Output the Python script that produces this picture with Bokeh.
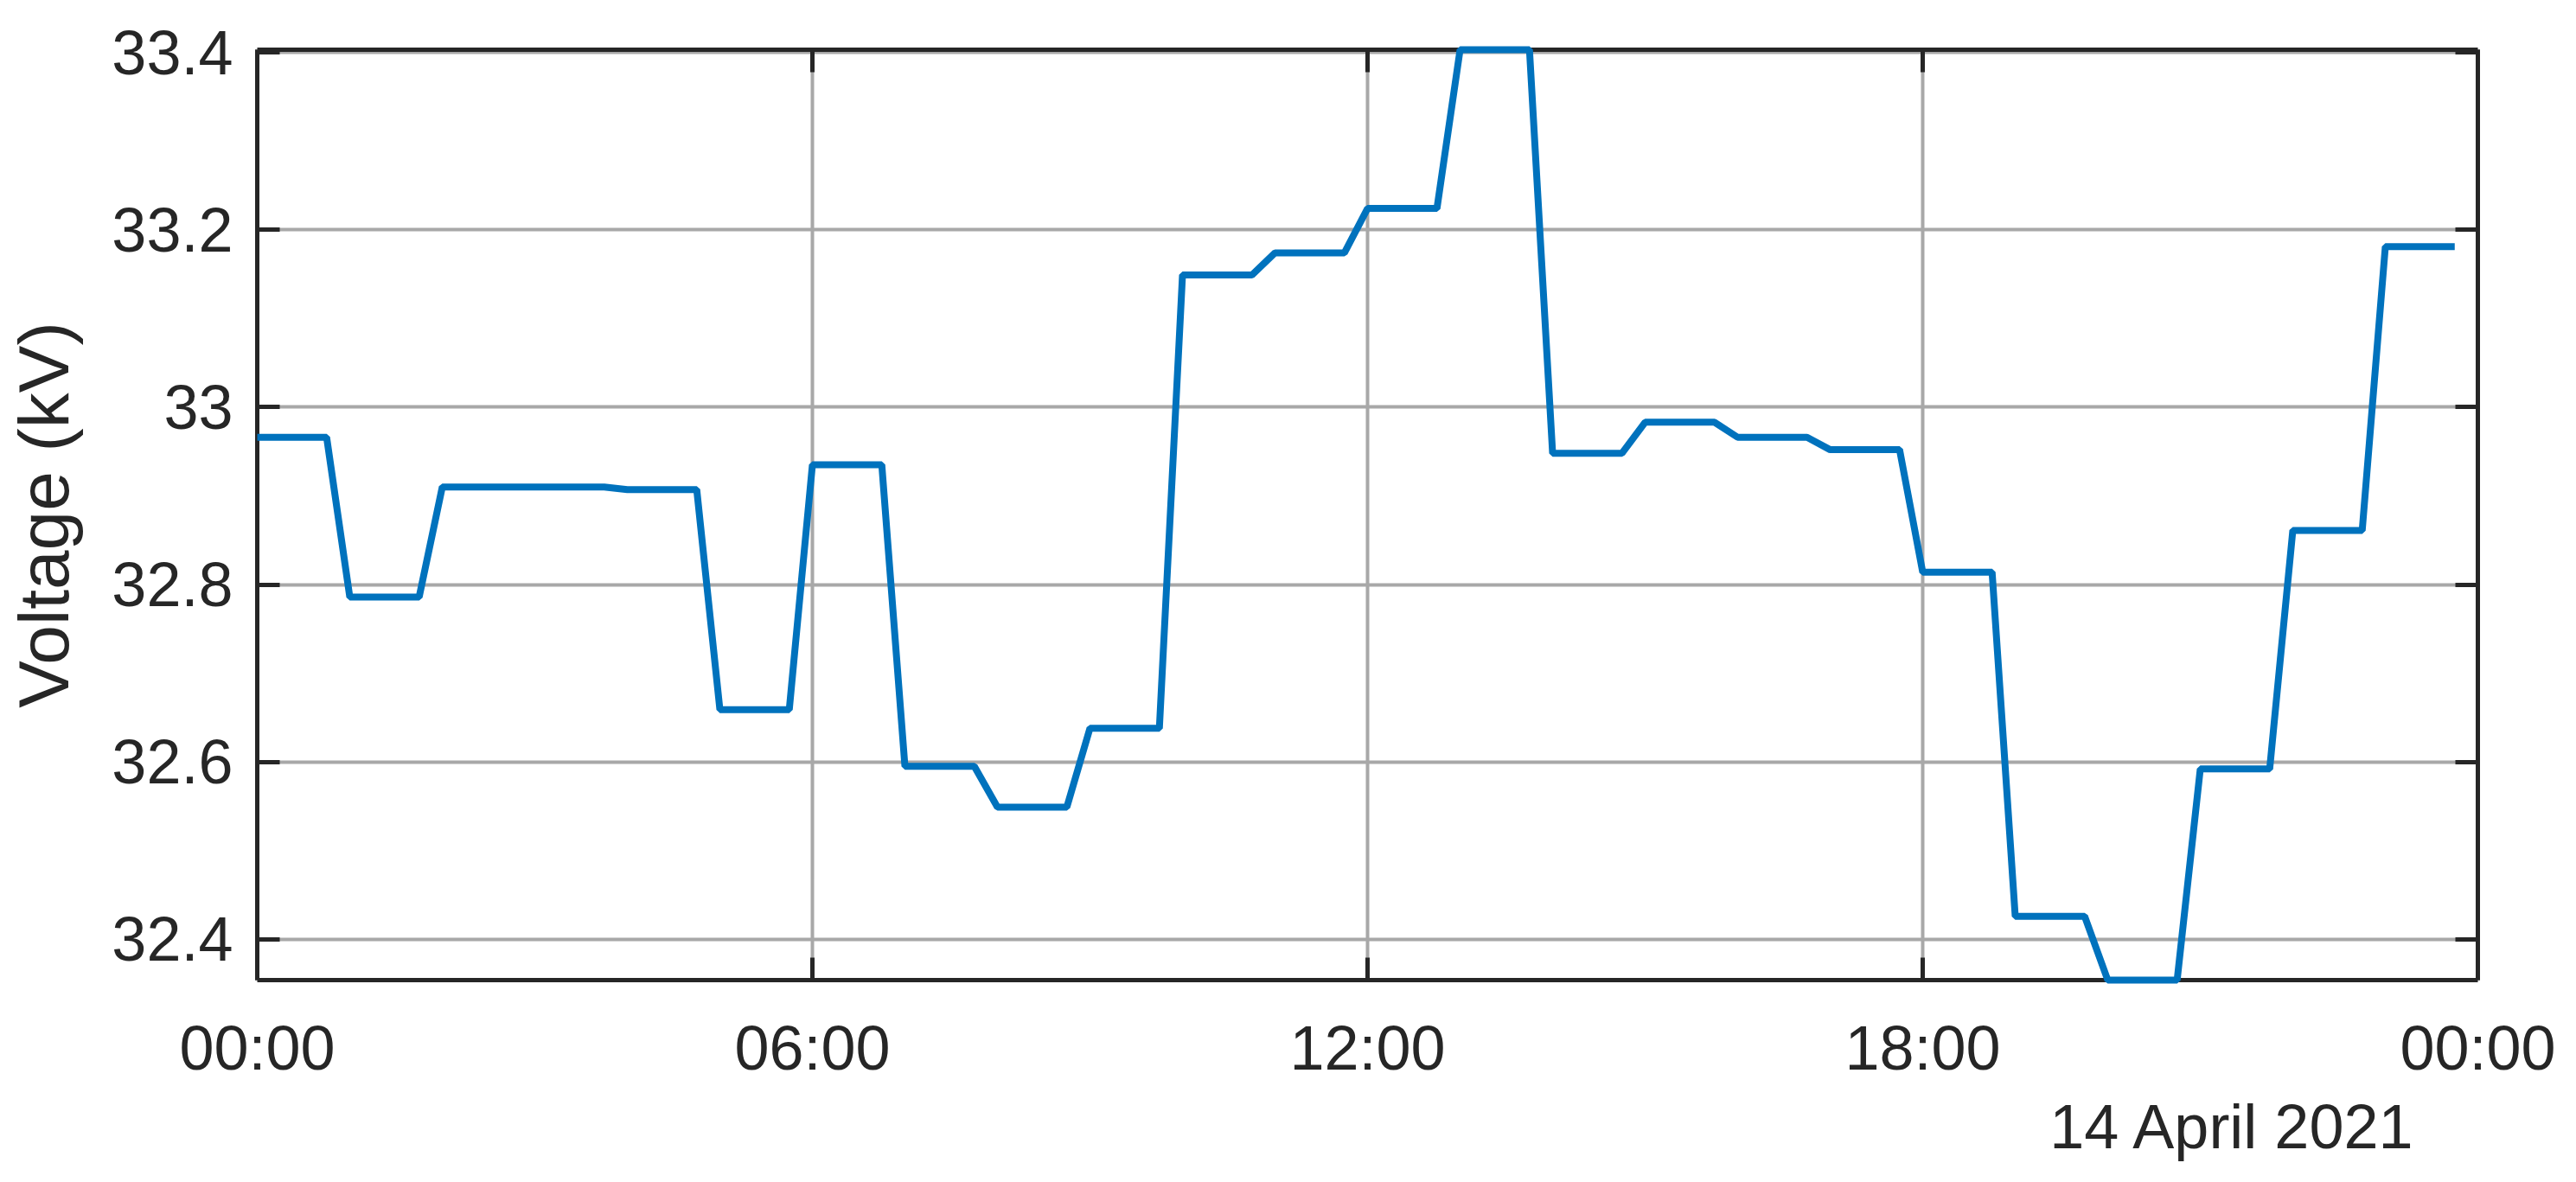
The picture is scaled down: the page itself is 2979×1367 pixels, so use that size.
import pandas as pd
from bokeh.plotting import figure
from bokeh.models import Range1d, FixedTicker, LinearAxis, DatetimeAxis, Title, ColumnDataSource
from bokeh.embed import file_html
from bokeh.resources import INLINE

# ---- data (15-minute samples, 14 April 2021) ----
times = pd.date_range("2021-04-14 00:00", periods=96, freq="15min")
voltage_kv = [
    32.966, 32.966, 32.966, 32.966,   # 00h
    32.786, 32.786, 32.786, 32.786,   # 01h
    32.910, 32.910, 32.910, 32.910,   # 02h
    32.910, 32.910, 32.910, 32.910,   # 03h
    32.907, 32.907, 32.907, 32.907,   # 04h
    32.659, 32.659, 32.659, 32.659,   # 05h
    32.935, 32.935, 32.935, 32.935,   # 06h
    32.595, 32.595, 32.595, 32.595,   # 07h
    32.549, 32.549, 32.549, 32.549,   # 08h
    32.638, 32.638, 32.638, 32.638,   # 09h
    33.149, 33.149, 33.149, 33.149,   # 10h
    33.174, 33.174, 33.174, 33.174,   # 11h
    33.224, 33.224, 33.224, 33.224,   # 12h
    33.403, 33.403, 33.403, 33.403,   # 13h
    32.948, 32.948, 32.948, 32.948,   # 14h
    32.983, 32.983, 32.983, 32.983,   # 15h
    32.966, 32.966, 32.966, 32.966,   # 16h
    32.952, 32.952, 32.952, 32.952,   # 17h
    32.814, 32.814, 32.814, 32.814,   # 18h
    32.426, 32.426, 32.426, 32.426,   # 19h
    32.354, 32.354, 32.354, 32.354,   # 20h
    32.592, 32.592, 32.592, 32.592,   # 21h
    32.861, 32.861, 32.861, 32.861,   # 22h
    33.181, 33.181, 33.181, 33.181,   # 23h
]
x_tick_times = ["2021-04-14 00:00", "2021-04-14 06:00", "2021-04-14 12:00",
                "2021-04-14 18:00", "2021-04-15 00:00"]
x_tick_labels = ["00:00", "06:00", "12:00", "18:00", "00:00"]
y_ticks = [32.4, 32.6, 32.8, 33.0, 33.2, 33.4]
y_tick_labels = ["32.4", "32.6", "32.8", "33", "33.2", "33.4"]
y_label = "Voltage (kV)"
date_label = "14 April 2021"

# ---- style ----
FONT = "Liberation Sans"
TXT = "#262626"
BLUE = "#0072BD"
GRID = "#a8a8a8"

def ms(t):
    return pd.Timestamp(t).timestamp() * 1000.0

x_ticks_ms = [ms(t) for t in x_tick_times]

src = ColumnDataSource(dict(t=times, v=voltage_kv))

p = figure(width=2963, height=1351, x_axis_type="datetime",
           x_range=Range1d(ms(x_tick_times[0]), ms(x_tick_times[-1])),
           y_range=Range1d(min(voltage_kv), max(voltage_kv)),
           output_backend="svg", toolbar_location=None,
           min_border_left=297, min_border_right=98,
           min_border_top=57, min_border_bottom=218)
p.outline_line_color = None
p.background_fill_color = "white"
p.border_fill_color = "white"

p.line("t", "v", source=src, line_color=BLUE, line_width=8, level="overlay")

xt = FixedTicker(ticks=x_ticks_ms)
yt = FixedTicker(ticks=y_ticks)

def style_axis(ax, labels=True):
    ax.axis_line_color = TXT
    ax.axis_line_width = 5
    ax.major_tick_line_color = TXT
    ax.major_tick_line_width = 5
    ax.major_tick_in = 26
    ax.major_tick_out = 0
    ax.minor_tick_line_color = None
    ax.major_label_text_font = FONT
    if labels:
        ax.major_label_text_color = TXT
        ax.major_label_text_font_size = "72px"
    else:
        ax.major_label_text_color = None
        ax.major_label_text_font_size = "10px"

xa = p.xaxis[0]
xa.ticker = xt
style_axis(xa)
xa.major_label_overrides = dict(zip(x_ticks_ms, x_tick_labels))
xa.major_label_standoff = 38

ya = p.yaxis[0]
ya.ticker = yt
style_axis(ya)
ya.major_label_overrides = dict(zip(y_ticks, y_tick_labels))
ya.major_label_standoff = 28
ya.axis_label = y_label
ya.axis_label_text_font = FONT
ya.axis_label_text_font_size = "82px"
ya.axis_label_text_font_style = "normal"
ya.axis_label_text_color = TXT
ya.axis_label_standoff = 30

top = DatetimeAxis(ticker=xt)
style_axis(top, labels=False)
p.add_layout(top, "above")
right = LinearAxis(ticker=yt)
style_axis(right, labels=False)
p.add_layout(right, "right")

p.xgrid.ticker = xt
p.ygrid.ticker = yt
for g in (p.xgrid[0], p.ygrid[0]):
    g.grid_line_color = GRID
    g.grid_line_width = 4

p.add_layout(Title(text=date_label, align="right", offset=71,
                   text_font=FONT, text_font_size="72px", text_font_style="normal",
                   text_color=TXT, standoff=13), "below")

open("out.html", "w").write(file_html(p, INLINE))
